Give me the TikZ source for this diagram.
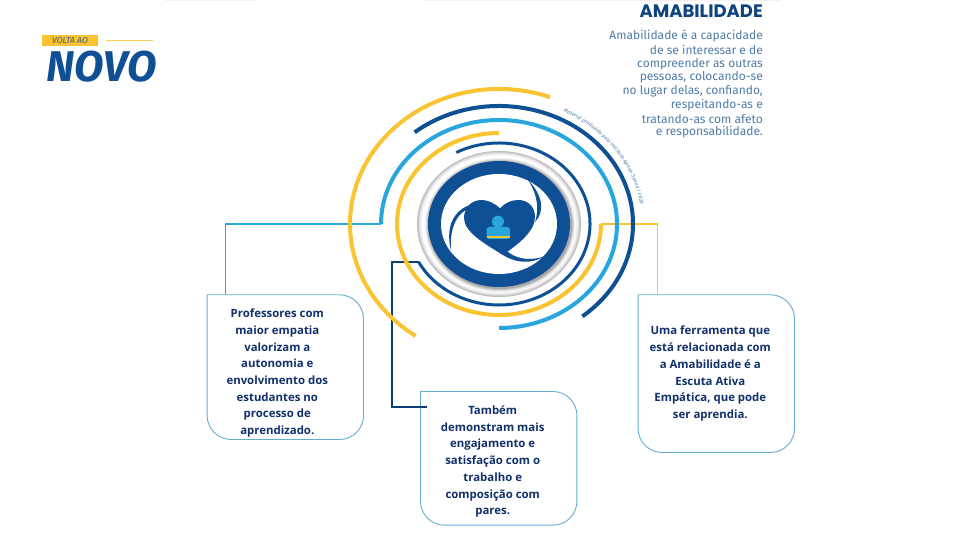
\documentclass[tikz,border=0pt]{standalone}
\usepackage{fontspec}
\setmainfont{Fira Sans}
\newfontfamily\boxfont{Open Sans}
\newfontfamily\titlefont{Poppins}
\usetikzlibrary{decorations.text}
\definecolor{navy}{HTML}{0F4F94}
\definecolor{sky}{HTML}{29A6DC}
\definecolor{gold}{HTML}{F9C332}
\definecolor{inktxt}{HTML}{12306A}
\definecolor{parag}{HTML}{4F7CA8}
\definecolor{frameln}{HTML}{62AFD0}
\tikzset{
  boxframe/.style={minimum width=156pt,inner sep=0pt},
  boxline/.style={draw=frameln,line width=0.9pt},
  boxtext/.style={align=center,font=\boxfont\bfseries\fontsize{11.4}{16.7}\selectfont,text=inktxt,inner sep=0pt},
  parline/.style={anchor=east,inner sep=0pt,text=parag,font=\fontsize{12}{13}\selectfont},
}
\begin{document}
\begin{tikzpicture}[x=1pt,y=1pt]
\useasboundingbox (0,0) rectangle (960,540);
\fill[white] (0,0) rectangle (960,540);
\fill[black!5] (165,538.5) rectangle (255,540);
\fill[black!5] (425,538.5) rectangle (780,540);
\coordinate (C) at (499,316);
\path (C) ++(180:118pt and 104pt) coordinate (skyend);
\path (C) ++(-152:91pt and 81pt) coordinate (navyend);
\path (C) ++(0:102pt and 91pt) coordinate (goldend);
% logo
\node[fill=gold,minimum width=56pt,minimum height=11pt,inner sep=0pt,text=inktxt!80,font=\itshape\fontsize{8.6}{9}\selectfont] (volta) at (70,499.5) {VOLTA AO};
\coordinate (lineA) at (105.7,499.3);
\coordinate (lineB) at (153.3,499.3);
\draw[gold!80,line width=1.3pt] (lineA) -- (lineB);
\node[text=navy,font=\bfseries\itshape\fontsize{43}{43}\selectfont,inner sep=0pt] (novo) at (101.5,473) {NOVO};
% right text
\node[anchor=east,inner sep=0pt,text=navy!85!black,font=\titlefont\bfseries\fontsize{18}{19}\selectfont] (title) at (763,529) {AMABILIDADE};
\foreach \txt/\yy in {Amabilidade é a capacidade/504,de se interessar e de/490,compreender as outras/476,{pessoas, colocando-se}/462.3,{no lugar delas, confiando,}/448.7,respeitando-as e/434.7,tratando-as com afeto/420.7,e responsabilidade./407.7}
  \node[parline] at (763,\yy) {\txt};
% boxes
\node[boxframe,minimum height=144.3pt] (profbox) at (285.3,172.85) {};
\node[boxframe,minimum height=133.3pt] (engbox) at (498.7,81.65) {};
\node[boxframe,minimum height=157.3pt] (escbox) at (716.3,166.35) {};
\foreach \nm in {profbox,engbox,escbox}
  \draw[boxline] (\nm.north west) [rounded corners=24pt] -- (\nm.north east) -- (\nm.south east) -- (\nm.south west) -- (\nm.north west);
\node[boxtext,xshift=-8pt,yshift=-6pt] (prof) at (profbox) {Professores com\\maior empatia\\valorizam a\\autonomia e\\envolvimento dos\\estudantes no\\processo de\\aprendizado.};
\node[boxtext,xshift=-6pt,yshift=-3.3pt] (eng) at (engbox) {Também\\demonstram mais\\engajamento e\\satisfação com o\\trabalho e\\composição com\\pares.};
\node[boxtext,xshift=-6pt,yshift=-0.1pt] (esc) at (escbox) {Uma ferramenta que\\está relacionada com\\a Amabilidade é a\\Escuta Ativa\\Empática, que pode\\ser aprendia.};
% connectors
\draw[sky,line width=1.2pt] (skyend) -| ([xshift=18.7pt]profbox.north west);
\draw[navy!80!black,line width=1.4pt] (navyend) -- ++(-26.5,0) |- ([shift={(6pt,-15.5pt)}]engbox.north west);
\draw[gold,line width=1.2pt] (goldend) -| ([xshift=19.4pt]escbox.north west);
% arcs
\foreach \rx/\ry/\from/\to/\col/\wd in {149/135/70/236/gold/4,134/118/129/-51.5/navy/4,118/104/180/-90/sky/4,102/91/90/360/gold/4,91/81/118/-152/navy/3}
  \draw[\col,line width=\wd pt] (C) ++(\from:\rx pt and \ry pt) arc[start angle=\from,end angle=\to,x radius=\rx pt,y radius=\ry pt];
% credit on the outer arc
\path[decorate,decoration={text along path,text color=parag,text align=center,text format delimiters={[}{]},
  text={[\fontsize{5.2}{5}\itshape]Material produzido pelo Instituto Ayrton Senna | 2020}}]
  (C) ++(66:143pt and 126pt) arc[start angle=66,end angle=6,x radius=143pt,y radius=126pt];
% halo
\foreach \dd/\gg in {0/26,1/20,2/13,3/7,4/3,5/0}
  \fill[black!\gg] (C) ellipse ({82-\dd} and {73-0.89*\dd});
\foreach \dd/\gg in {3/6,2/14,1/24,0/34}
  \fill[black!\gg] (500,315) ellipse ({72+\dd} and {64+\dd});
% ring, swirls, heart
\fill[navy] (C) ellipse (71 and 63);
\fill[white] (C) ellipse (58 and 50);
\fill[navy] (500,331.7) .. controls (494,337) and (488,340) .. (481.7,340) .. controls (471,340) and (464,332) .. (464,322) .. controls (464,308) and (485,296) .. (503,285) .. controls (518,296) and (535,308) .. (535,323.3) .. controls (535,333) and (528,340) .. (518.3,340) .. controls (511,340) and (505,337) .. (500,331.7) -- cycle;
\fill[navy] (528,360) .. controls (543,345) and (545,328) .. (535,318) .. controls (539,330) and (538,345) .. (528,360) -- cycle;
\fill[navy] (472,335.5) .. controls (458,332) and (444,318) .. (451,289.5) .. controls (449,316) and (460,328) .. (468,331) -- cycle;
\fill[navy] (500,287) .. controls (515,276) and (532,276) .. (544,283.5) .. controls (532,279.5) and (518,280) .. (508,288) -- cycle;
% person
\fill[sky] (498,318.3) circle (6);
\fill[sky,rounded corners=2.5pt] (486.7,301) rectangle (510,313);
\fill[gold] (486.7,302.3) rectangle (510,304.3);
\end{tikzpicture}
\end{document}
